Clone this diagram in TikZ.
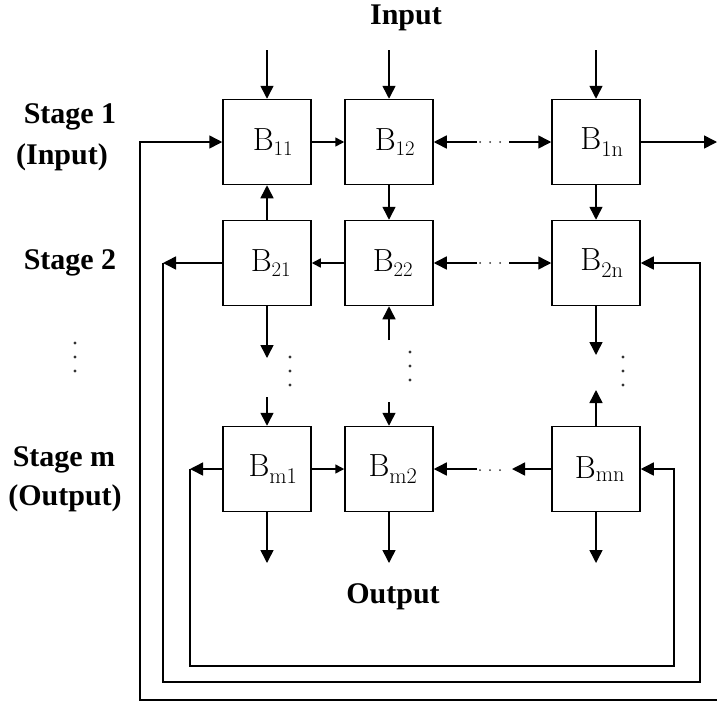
\documentclass[tikz,border=0pt]{standalone}
\usepackage{fontspec}
\usetikzlibrary{arrows.meta}
\newfontfamily\lblfont{Liberation Serif}
\newcommand{\stagefont}{\lblfont\bfseries\fontsize{30}{33}\selectfont}
\newcommand{\cellfont}{\fontsize{32}{34}\selectfont}
\tikzset{
 every node/.append style={text=black,align=center},
 box/.style={draw,line width=1.5pt,minimum width=88pt,minimum height=85pt,inner sep=0pt,font=\cellfont},
 title/.style={font=\stagefont,inner sep=1pt},
 flow/.style={-{Triangle[length=13pt,width=13pt]},line width=1.5pt},
 hop/.style={-{Triangle[length=9pt,width=9pt]},line width=1.5pt},
 dot/.style={fill=black!80},
}
\begin{document}
\begin{tikzpicture}[x=1pt,y=-1pt]

\useasboundingbox (0,0) rectangle (717,702);
\node[box] (b11) at (267,142) {\hspace{12pt}$\mathrm{B}_{11}$};
\node[box] (b12) at (389,142) {\hspace{12pt}$\mathrm{B}_{12}$};
\node[box] (b1n) at (596,142) {\hspace{12pt}$\mathrm{B}_{\mathrm{1n}}$};
\node[box] (b21) at (267,263) {\hspace{8pt}$\mathrm{B}_{21}$};
\node[box] (b22) at (389,263) {\hspace{8pt}$\mathrm{B}_{22}$};
\node[box] (b2n) at (596,263) {\hspace{12pt}$\mathrm{B}_{\mathrm{2n}}$};
\node[box] (bm1) at (267,469) {\hspace{12pt}$\mathrm{B}_{\mathrm{m1}}$};
\node[box] (bm2) at (389,469) {\hspace{8pt}$\mathrm{B}_{\mathrm{m2}}$};
\node[box] (bmn) at (596,469) {\hspace{8pt}$\mathrm{B}_{\mathrm{mn}}$};
\node[title] (input) at (406,18) {Input};
\node[title] (output) at (393,597) {Output};
\node[title] (st1) at (70,117) {Stage 1};
\node[title] (st1in) at (62,157) {(Input)};
\node[title] (st2) at (70,263) {Stage 2};
\node[title] (stm) at (64,460) {Stage m};
\node[title] (stmout) at (65,498) {(Output)};
\coordinate (in1) at (267,50); \coordinate (in2) at (389,50); \coordinate (in3) at (596,50);
\draw[flow] (in1) -- (b11.north); \draw[flow] (in2) -- (b12.north); \draw[flow] (in3) -- (b1n.north);
\coordinate (out1) at (717,142); \coordinate (loopA) at (717,700); \coordinate (loopB) at (140,700);
\draw[flow] (b1n.east) -- (out1); \draw[flow] (loopA) -- (loopB) |- (b11.west);
\coordinate (turn2) at (163,263); \coordinate (back2) at (700,682);
\draw[flow] (b21.west) -- (turn2); \draw[flow] (turn2) |- (back2) |- (b2n.east);
\coordinate (turnm) at (190,469); \coordinate (backm) at (674,666);
\draw[flow] (bm1.west) -- (turnm); \draw[flow] (turnm) |- (backm) |- (bmn.east);
\draw[hop] (b11.east) -- (b12.west); \draw[hop] (b22.west) -- (b21.east); \draw[hop] (bm1.east) -- (bm2.west);
\coordinate (r1a) at (477,142); \coordinate (r1b) at (509,142);
\draw[flow] (r1a) -- (b12.east); \draw[flow] (r1b) -- (b1n.west);
\coordinate (r2a) at (477,263); \coordinate (r2b) at (509,263);
\draw[flow] (r2a) -- (b22.east); \draw[flow] (r2b) -- (b2n.west);
\coordinate (rma) at (477,469); \coordinate (rmb) at (512,469);
\draw[flow] (rma) -- (bm2.east); \draw[flow] (bmn.west) -- (rmb);
\draw[flow] (b21.north) -- (b11.south); \draw[flow] (b12.south) -- (b22.north); \draw[flow] (b1n.south) -- (b2n.north);
\coordinate (d1a) at (267,358); \coordinate (d1b) at (267,397);
\draw[flow] (b21.south) -- (d1a); \draw[flow] (d1b) -- (bm1.north);
\coordinate (d2a) at (389,340); \coordinate (d2b) at (389,402);
\draw[flow] (d2a) -- (b22.south); \draw[flow] (d2b) -- (bm2.north);
\coordinate (d3a) at (596,355); \coordinate (d3b) at (596,390);
\draw[flow] (b2n.south) -- (d3a); \draw[flow] (bmn.north) -- (d3b);
\coordinate (o1) at (267,563); \coordinate (o2) at (389,563); \coordinate (o3) at (596,563);
\draw[flow] (bm1.south) -- (o1); \draw[flow] (bm2.south) -- (o2); \draw[flow] (bmn.south) -- (o3);
\foreach \x in {480,490,500} {\fill[dot] (\x,142) circle (1pt); \fill[dot] (\x,263) circle (1pt); \fill[dot] (\x,470) circle (1pt);}
\foreach \y in {0,14,28} {\fill[dot] (75,343+\y) circle (1.6pt); \fill[dot] (290,357+\y) circle (1.6pt); \fill[dot] (410,352+\y) circle (1.6pt); \fill[dot] (623,357+\y) circle (1.6pt);}

\end{tikzpicture}
\end{document}
